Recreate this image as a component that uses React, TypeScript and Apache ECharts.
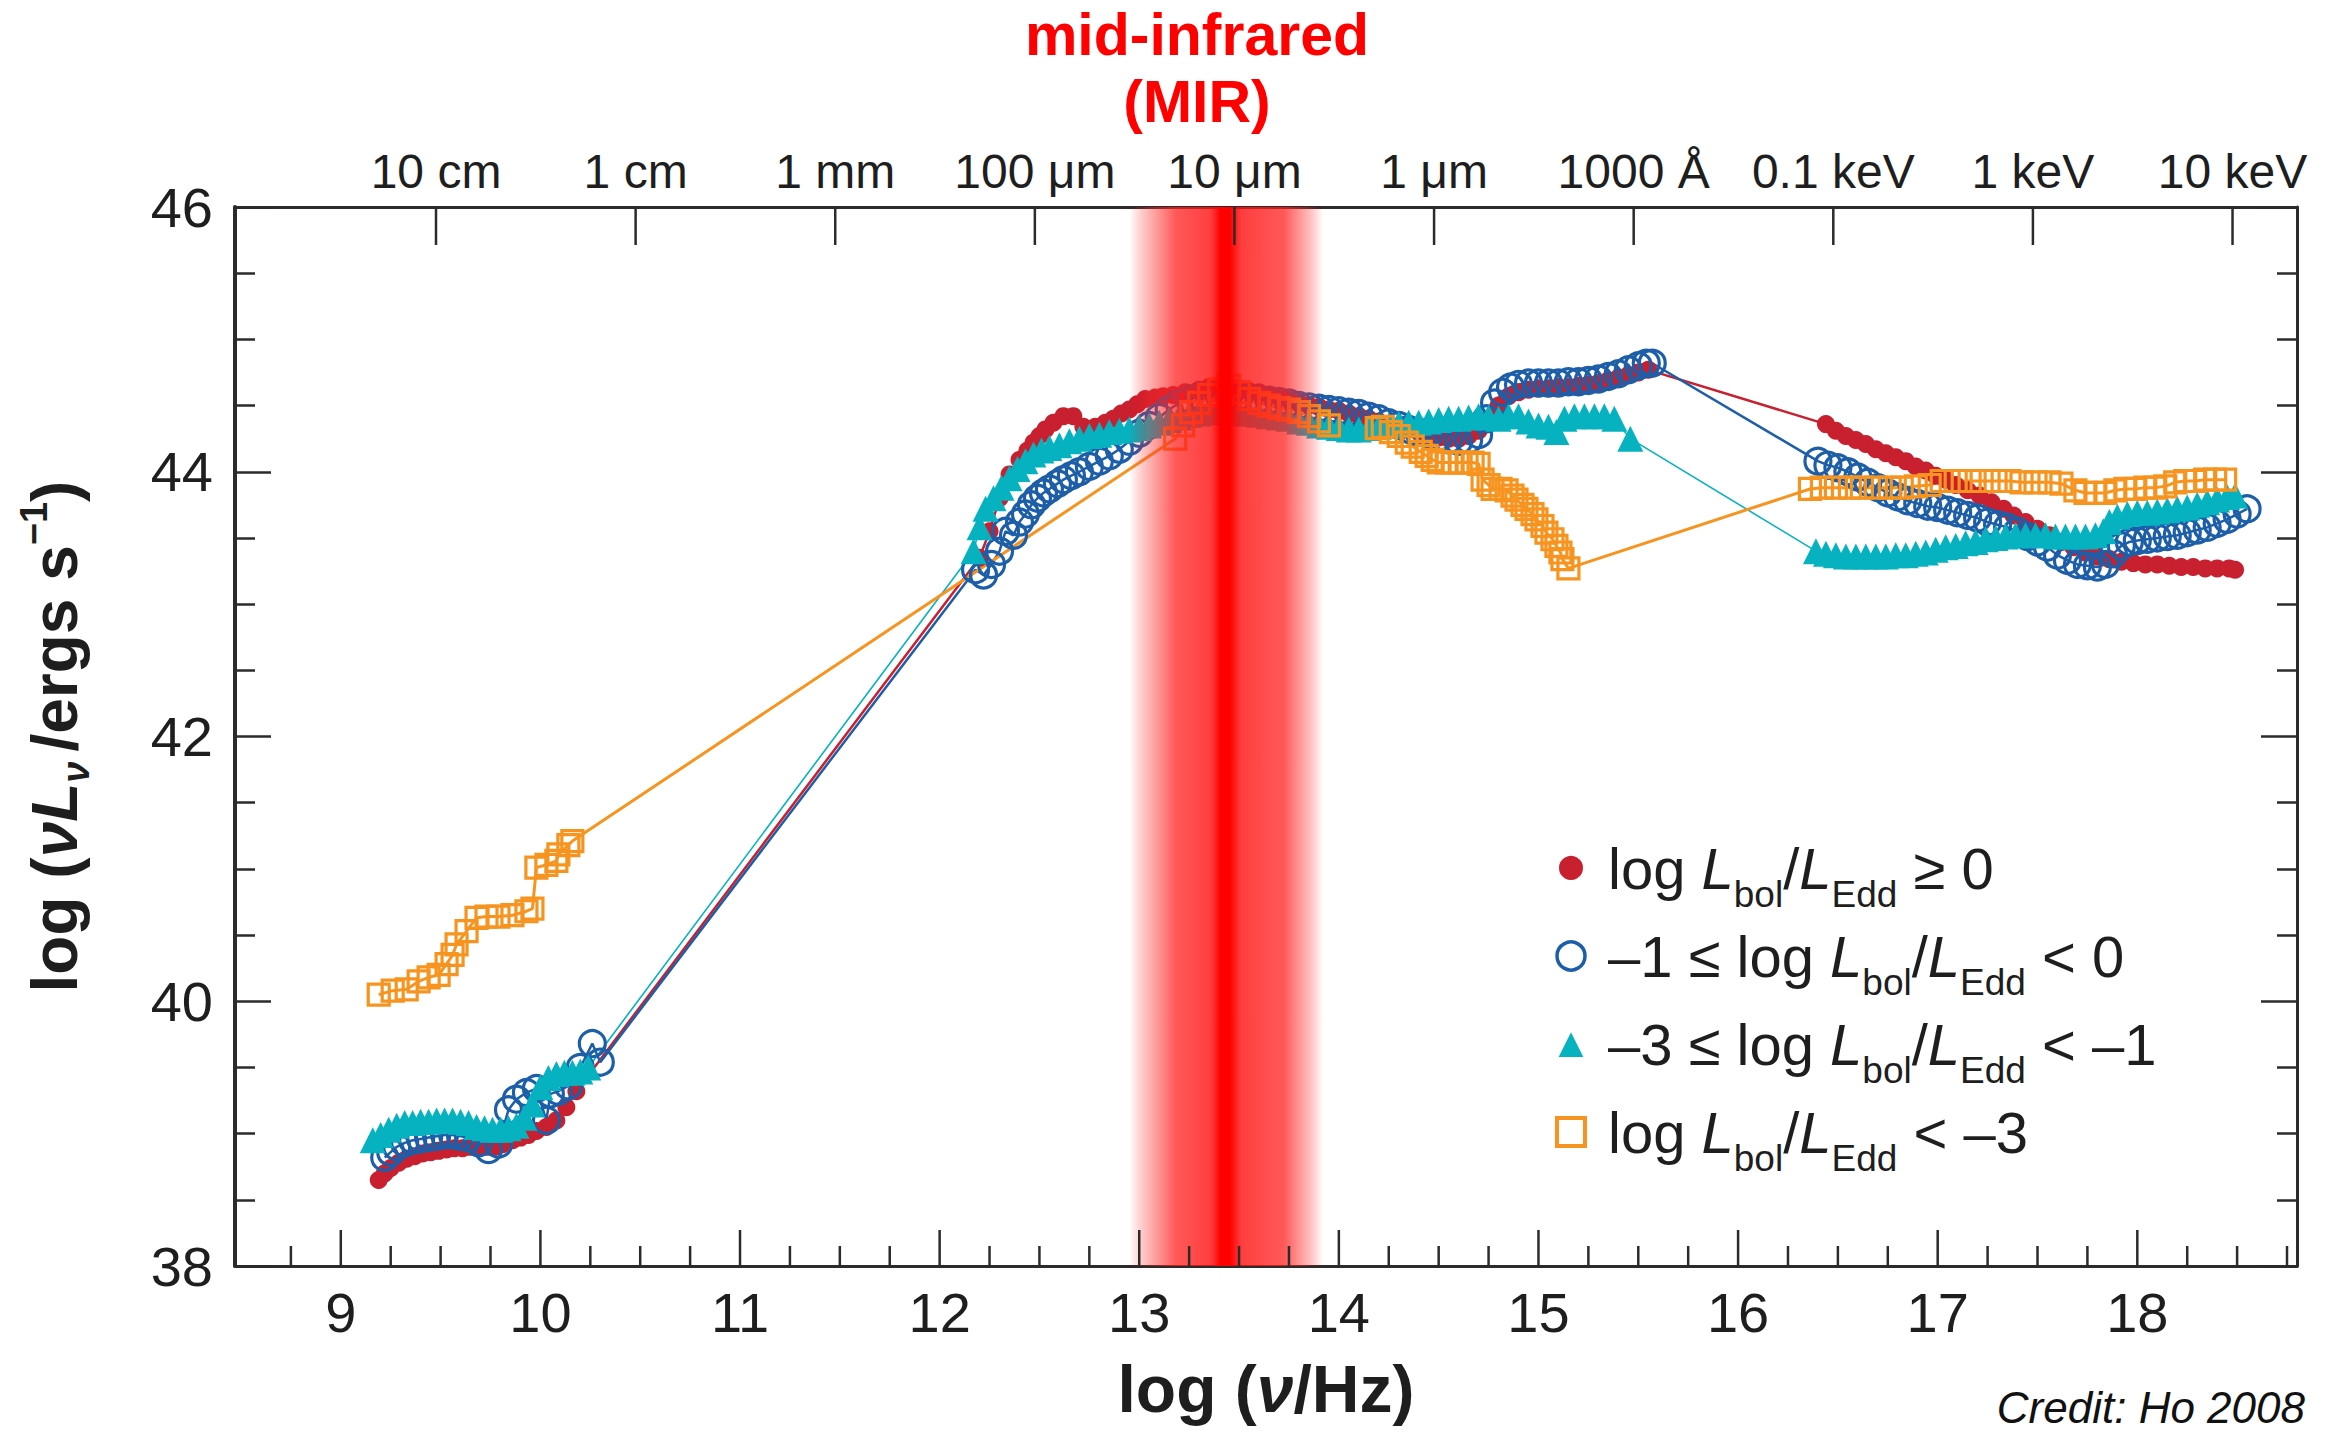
import React, { useEffect, useRef } from 'react';
import * as echarts from 'echarts';

// ---------- data (log nu [Hz], log nuL_nu [erg/s]) ----------
const seriesNames = [
  'log Lbol/LEdd ≥ 0',
  '−1 ≤ log Lbol/LEdd < 0',
  '−3 ≤ log Lbol/LEdd < −1',
  'log Lbol/LEdd < −3',
];

const redData: number[][] = [
  [9.19, 38.65], [9.22, 38.70], [9.25, 38.74], [9.29, 38.78], [9.33, 38.81], [9.37, 38.83], [9.41, 38.85],
  [9.45, 38.86], [9.49, 38.87], [9.53, 38.88], [9.57, 38.89], [9.61, 38.89], [9.65, 38.90], [9.69, 38.90],
  [9.73, 38.90], [9.77, 38.90], [9.81, 38.92], [9.86, 38.95], [9.90, 38.97], [9.94, 38.99], [9.98, 39.02],
  [10.03, 39.05], [10.08, 39.10], [10.13, 39.20], [10.18, 39.32],
  [12.20, 43.35], [12.25, 43.55], [12.30, 43.80], [12.35, 43.98], [12.40, 44.09], [12.44, 44.16], [12.47, 44.22],
  [12.50, 44.27], [12.53, 44.32], [12.57, 44.37], [12.62, 44.42], [12.67, 44.42], [12.72, 44.34], [12.78, 44.34],
  [12.83, 44.37], [12.87, 44.40], [12.91, 44.44], [12.95, 44.47], [12.99, 44.51], [13.03, 44.55], [13.08, 44.56],
  [13.12, 44.57], [13.17, 44.58], [13.23, 44.60], [13.30, 44.62], [13.35, 44.64], [13.40, 44.65], [13.45, 44.64],
  [13.50, 44.63], [13.55, 44.61], [13.60, 44.60], [13.65, 44.58], [13.70, 44.56], [13.75, 44.54], [13.80, 44.52],
  [13.85, 44.50], [13.90, 44.49], [13.95, 44.47], [14.00, 44.46], [14.05, 44.44], [14.10, 44.42], [14.15, 44.40],
  [14.20, 44.38], [14.25, 44.36], [14.30, 44.34], [14.35, 44.32], [14.40, 44.30], [14.45, 44.28], [14.50, 44.26],
  [14.55, 44.25], [14.60, 44.25], [14.65, 44.27], [14.70, 44.31], [14.75, 44.40], [14.80, 44.50], [14.85, 44.57],
  [14.90, 44.60], [14.95, 44.62], [15.00, 44.63], [15.05, 44.63], [15.10, 44.64], [15.15, 44.64], [15.20, 44.65],
  [15.25, 44.66], [15.30, 44.67], [15.35, 44.69], [15.40, 44.71], [15.45, 44.73], [15.50, 44.75], [15.55, 44.77],
  [16.44, 44.36], [16.49, 44.31], [16.54, 44.27], [16.59, 44.24], [16.64, 44.21], [16.69, 44.17], [16.74, 44.14],
  [16.79, 44.11], [16.84, 44.08], [16.89, 44.04], [16.94, 44.01], [16.99, 43.97], [17.04, 43.94], [17.09, 43.90],
  [17.15, 43.86], [17.21, 43.82], [17.27, 43.77], [17.33, 43.72], [17.38, 43.67], [17.44, 43.62], [17.50, 43.57],
  [17.56, 43.52], [17.62, 43.47], [17.68, 43.43], [17.74, 43.39], [17.80, 43.36], [17.86, 43.34], [17.92, 43.32],
  [17.98, 43.31], [18.04, 43.30], [18.10, 43.30], [18.16, 43.29], [18.22, 43.28], [18.28, 43.28], [18.34, 43.27],
  [18.40, 43.27], [18.46, 43.27], [18.49, 43.26],
];

const blueData: number[][] = [
  [9.22, 38.82], [9.25, 38.86], [9.28, 38.90], [9.32, 38.93], [9.36, 38.95], [9.40, 38.96], [9.44, 38.97],
  [9.48, 38.98], [9.52, 38.99], [9.56, 38.99], [9.60, 38.98], [9.64, 38.97], [9.69, 38.93], [9.74, 38.88],
  [9.79, 38.92], [9.84, 39.18], [9.88, 39.26], [9.93, 39.31], [9.98, 39.34], [10.03, 39.10], [10.05, 39.30],
  [10.09, 39.32], [10.14, 39.36], [10.20, 39.50], [10.26, 39.68], [10.30, 39.54],
  [12.18, 43.26], [12.22, 43.22], [12.26, 43.30], [12.30, 43.40], [12.33, 43.55], [12.37, 43.52], [12.40, 43.62],
  [12.43, 43.68], [12.46, 43.75], [12.49, 43.80], [12.52, 43.84], [12.55, 43.87], [12.59, 43.91], [12.62, 43.94],
  [12.66, 43.97], [12.70, 44.00], [12.75, 44.04], [12.80, 44.08], [12.85, 44.12], [12.90, 44.17], [12.95, 44.23],
  [13.00, 44.29], [13.05, 44.35], [13.10, 44.41], [13.15, 44.47], [13.20, 44.52], [13.25, 44.55], [13.30, 44.57],
  [13.35, 44.58], [13.40, 44.58], [13.45, 44.58], [13.50, 44.57], [13.55, 44.56], [13.60, 44.55], [13.65, 44.54],
  [13.70, 44.53], [13.75, 44.52], [13.80, 44.50], [13.85, 44.49], [13.90, 44.48], [13.95, 44.47], [14.00, 44.46],
  [14.05, 44.45], [14.10, 44.44], [14.15, 44.42], [14.20, 44.40], [14.25, 44.37], [14.30, 44.35], [14.35, 44.32],
  [14.40, 44.30], [14.45, 44.28], [14.50, 44.26], [14.55, 44.24], [14.60, 44.23], [14.65, 44.24], [14.70, 44.28],
  [14.74, 44.40], [14.78, 44.52], [14.82, 44.60], [14.86, 44.64], [14.90, 44.66], [14.95, 44.67], [15.00, 44.67],
  [15.05, 44.67], [15.10, 44.67], [15.15, 44.68], [15.20, 44.68], [15.25, 44.69], [15.30, 44.70], [15.35, 44.72],
  [15.40, 44.74], [15.45, 44.77], [15.50, 44.80], [15.54, 44.82], [15.57, 44.82],
  [16.40, 44.08], [16.45, 44.05], [16.50, 44.03], [16.55, 44.00], [16.60, 43.96], [16.65, 43.92], [16.70, 43.88],
  [16.75, 43.84], [16.80, 43.81], [16.85, 43.78], [16.90, 43.76], [16.95, 43.74], [17.00, 43.73], [17.05, 43.71],
  [17.10, 43.69], [17.15, 43.67], [17.20, 43.65], [17.25, 43.62], [17.30, 43.60], [17.35, 43.58], [17.40, 43.55],
  [17.45, 43.51], [17.50, 43.47], [17.55, 43.43], [17.60, 43.37], [17.65, 43.33], [17.70, 43.30], [17.75, 43.29],
  [17.80, 43.28], [17.84, 43.30], [17.88, 43.38], [17.92, 43.44], [17.96, 43.47], [18.00, 43.48], [18.05, 43.49],
  [18.10, 43.50], [18.15, 43.51], [18.20, 43.52], [18.25, 43.54], [18.30, 43.56], [18.35, 43.58], [18.40, 43.61],
  [18.45, 43.64], [18.50, 43.68], [18.55, 43.72],
];

const cyanData: number[][] = [
  [9.16, 38.95], [9.20, 38.99], [9.24, 39.03], [9.28, 39.06], [9.32, 39.08], [9.36, 39.08], [9.40, 39.09],
  [9.44, 39.09], [9.48, 39.10], [9.52, 39.10], [9.56, 39.10], [9.60, 39.09], [9.64, 39.08], [9.68, 39.05],
  [9.72, 39.04], [9.76, 39.03], [9.80, 39.03], [9.84, 39.04], [9.88, 39.06], [9.92, 39.12], [9.96, 39.22],
  [10.00, 39.35], [10.04, 39.42], [10.08, 39.45], [10.12, 39.46], [10.16, 39.46], [10.20, 39.47], [10.24, 39.50],
  [12.17, 43.40], [12.20, 43.58], [12.23, 43.72], [12.27, 43.80], [12.31, 43.88], [12.35, 43.95], [12.39, 44.02],
  [12.43, 44.08], [12.47, 44.13], [12.51, 44.16], [12.55, 44.18], [12.60, 44.20], [12.65, 44.23], [12.70, 44.25],
  [12.75, 44.27], [12.80, 44.28], [12.85, 44.30], [12.90, 44.31], [12.95, 44.32], [13.00, 44.33], [13.05, 44.35],
  [13.10, 44.37], [13.15, 44.39], [13.20, 44.41], [13.25, 44.43], [13.30, 44.44], [13.35, 44.45], [13.40, 44.45],
  [13.45, 44.45], [13.50, 44.44], [13.55, 44.44], [13.60, 44.43], [13.65, 44.42], [13.70, 44.41], [13.75, 44.40],
  [13.80, 44.38], [13.85, 44.37], [13.90, 44.35], [13.95, 44.34], [14.00, 44.33], [14.05, 44.32], [14.10, 44.32],
  [14.15, 44.33], [14.20, 44.34], [14.25, 44.35], [14.30, 44.36], [14.35, 44.37], [14.40, 44.37], [14.45, 44.38],
  [14.50, 44.39], [14.55, 44.40], [14.60, 44.40], [14.65, 44.41], [14.70, 44.42], [14.75, 44.41], [14.80, 44.40],
  [14.85, 44.42], [14.90, 44.42], [14.95, 44.38], [15.00, 44.35], [15.05, 44.34], [15.09, 44.30], [15.13, 44.40],
  [15.18, 44.42], [15.23, 44.42], [15.28, 44.42], [15.33, 44.42], [15.38, 44.40], [15.46, 44.25],
  [16.39, 43.40], [16.44, 43.38], [16.49, 43.37], [16.54, 43.36], [16.59, 43.36], [16.64, 43.36], [16.69, 43.36],
  [16.74, 43.36], [16.79, 43.37], [16.84, 43.37], [16.89, 43.38], [16.94, 43.39], [16.99, 43.41], [17.04, 43.43],
  [17.09, 43.44], [17.14, 43.46], [17.19, 43.47], [17.24, 43.49], [17.29, 43.50], [17.34, 43.51], [17.39, 43.52],
  [17.44, 43.52], [17.49, 43.52], [17.54, 43.52], [17.59, 43.51], [17.64, 43.51], [17.69, 43.51], [17.74, 43.51],
  [17.79, 43.52], [17.83, 43.55], [17.86, 43.62], [17.90, 43.66], [17.95, 43.68], [18.00, 43.69], [18.05, 43.69],
  [18.10, 43.70], [18.15, 43.71], [18.20, 43.72], [18.25, 43.73], [18.30, 43.75], [18.35, 43.77], [18.40, 43.79],
  [18.45, 43.81], [18.49, 43.82],
];

const orangeData: number[][] = [
  [9.19, 40.05], [9.26, 40.08], [9.33, 40.09], [9.39, 40.15], [9.44, 40.18], [9.49, 40.20], [9.53, 40.28],
  [9.56, 40.35], [9.58, 40.43], [9.63, 40.53], [9.68, 40.63], [9.73, 40.64], [9.79, 40.64], [9.86, 40.65],
  [9.93, 40.68], [9.96, 40.70], [9.98, 41.01], [10.03, 41.03], [10.08, 41.06], [10.09, 41.11], [10.14, 41.18],
  [10.16, 41.21],
  [13.18, 44.25], [13.22, 44.35], [13.26, 44.45], [13.30, 44.52], [13.35, 44.58], [13.40, 44.62], [13.45, 44.65],
  [13.50, 44.60], [13.55, 44.55], [13.60, 44.52], [13.65, 44.50], [13.70, 44.48], [13.75, 44.47], [13.80, 44.45],
  [13.85, 44.42], [13.90, 44.38], [13.95, 44.35],
  [14.19, 44.33], [14.22, 44.34], [14.26, 44.30], [14.30, 44.27], [14.34, 44.22], [14.37, 44.19], [14.41, 44.15],
  [14.44, 44.12], [14.47, 44.09], [14.50, 44.07], [14.54, 44.07], [14.57, 44.07], [14.61, 44.07], [14.64, 44.07],
  [14.67, 44.07], [14.70, 44.06], [14.72, 43.94], [14.75, 43.90], [14.77, 43.87], [14.81, 43.87], [14.84, 43.86],
  [14.87, 43.82], [14.89, 43.79], [14.92, 43.75], [14.94, 43.72], [14.97, 43.68], [14.99, 43.64], [15.02, 43.59],
  [15.04, 43.54], [15.07, 43.49], [15.09, 43.44], [15.11, 43.39], [15.12, 43.34], [15.15, 43.27],
  [16.36, 43.87], [16.42, 43.88], [16.49, 43.88], [16.56, 43.88], [16.62, 43.88], [16.69, 43.88], [16.76, 43.88],
  [16.82, 43.88], [16.89, 43.89], [16.96, 43.90], [17.02, 43.93], [17.09, 43.93], [17.16, 43.93], [17.22, 43.93],
  [17.29, 43.93], [17.36, 43.93], [17.42, 43.92], [17.49, 43.92], [17.56, 43.92], [17.62, 43.91], [17.69, 43.86],
  [17.74, 43.84], [17.79, 43.84], [17.84, 43.84], [17.89, 43.86], [17.94, 43.87], [17.99, 43.87], [18.04, 43.88],
  [18.09, 43.88], [18.14, 43.89], [18.19, 43.92], [18.24, 43.93], [18.29, 43.93], [18.34, 43.94], [18.39, 43.94],
  [18.44, 43.94],
];

// axis ticks / labels
const xRange = [8.47, 18.8];
const yRange = [38, 46];
const bottomMajorTicks = [9, 10, 11, 12, 13, 14, 15, 16, 17, 18];
const bottomMinorTicks = [
  8.75, 9.25, 9.5, 9.75, 10.25, 10.5, 10.75, 11.25, 11.5, 11.75, 12.25, 12.5, 12.75, 13.25, 13.5, 13.75,
  14.25, 14.5, 14.75, 15.25, 15.5, 15.75, 16.25, 16.5, 16.75, 17.25, 17.5, 17.75, 18.25, 18.5, 18.75,
];
const topTicks = [9.477, 10.477, 11.477, 12.477, 13.477, 14.477, 15.477, 16.477, 17.477, 18.477];
const topTickLabels = ['10 cm', '1 cm', '1 mm', '100 μm', '10 μm', '1 μm', '1000 Å', '0.1 keV', '1 keV', '10 keV'];
const mirBand = [[12.95, 13.92]];

// ---------- styles ----------
const FONT = "'Liberation Sans', Arial, Helvetica, sans-serif";
const AXIS = '#2b2b2b';
const TEXT = '#1e1e1e';
const RED = '#c8202f';
const BLUE = '#1d5ea9';
const CYAN = '#06b2c0';
const ORANGE = '#f6941f';

const legendRich = [
  '{g| }{n|log }{i|L}{t|bol}{n|/}{i|L}{t|Edd}{n| ≥ 0}',
  '{g| }{n|–1 ≤ log }{i|L}{s|bol}{n|/}{i|L}{s|Edd}{n| < 0}',
  '{g| }{n|–3 ≤ log }{i|L}{s|bol}{n|/}{i|L}{s|Edd}{n| < –1}',
  '{g| }{n|log }{i|L}{s|bol}{n|/}{i|L}{s|Edd}{n| < –3}',
];

function tickSeries(ticks: number[], top: boolean, len: number) {
  return {
    type: 'custom',
    silent: true,
    z: 6,
    data: ticks.map((v) => [v, top ? yRange[1] : yRange[0]]),
    encode: { x: 0, y: 1 },
    renderItem: (_p: any, api: any) => {
      const p = api.coord([api.value(0), api.value(1)]);
      return {
        type: 'line',
        shape: { x1: p[0], y1: p[1], x2: p[0], y2: top ? p[1] + len : p[1] - len },
        style: { stroke: AXIS, lineWidth: 2.5 },
      };
    },
  };
}

function labelSeries(ticks: number[], labels: string[], top: boolean, offset: number, size: number) {
  return {
    type: 'custom',
    silent: true,
    z: 6,
    data: ticks.map((v) => [v, top ? yRange[1] : yRange[0]]),
    encode: { x: 0, y: 1 },
    renderItem: (params: any, api: any) => {
      const p = api.coord([api.value(0), api.value(1)]);
      return {
        type: 'text',
        x: p[0],
        y: top ? p[1] - offset : p[1] + offset,
        style: {
          text: labels[params.dataIndex],
          fontSize: size,
          fontFamily: FONT,
          fill: TEXT,
          align: 'center',
          verticalAlign: 'middle',
        },
      };
    },
  };
}

function dataSeries(name: string, data: number[][], symbol: string, size: number, color: string, hollow: boolean, lw: number) {
  return {
    type: 'line',
    name,
    data,
    symbol,
    symbolSize: size,
    showAllSymbol: true,
    z: 2,
    lineStyle: { color, width: lw },
    itemStyle: hollow
      ? { color: 'rgba(255,255,255,0)', borderColor: color, borderWidth: 3.2 }
      : { color, borderWidth: 0 },
    emphasis: { disabled: true },
  };
}

const option: any = {
  animation: false,
  backgroundColor: '#ffffff',
  grid: { left: 235, top: 207, width: 2062, height: 1059, containLabel: false, outerBoundsMode: 'none' },
  xAxis: [
    {
      type: 'value', min: xRange[0], max: xRange[1], position: 'bottom',
      axisLine: { show: true, lineStyle: { color: AXIS, width: 3 } },
      axisTick: { show: false }, axisLabel: { show: false }, splitLine: { show: false },
      name: '{b|log (}{bi|ν}{b|/Hz)}',
      nameLocation: 'middle',
      nameGap: 90,
      nameTextStyle: {
        rich: {
          b: { fontSize: 66, fontWeight: 'bold', fontFamily: FONT, color: TEXT },
          bi: { fontSize: 66, fontWeight: 'bold', fontStyle: 'italic', fontFamily: FONT, color: TEXT },
        },
      },
    },
    {
      type: 'value', min: xRange[0], max: xRange[1], position: 'top',
      axisLine: { show: true, lineStyle: { color: AXIS, width: 3 } },
      axisTick: { show: false }, axisLabel: { show: false }, splitLine: { show: false },
    },
  ],
  yAxis: [
    {
      type: 'value', min: yRange[0], max: yRange[1], interval: 2, position: 'left',
      axisLine: { show: true, lineStyle: { color: AXIS, width: 4 } },
      axisTick: { show: true, inside: true, length: 36, lineStyle: { color: AXIS, width: 2.5 } },
      minorTick: { show: true, splitNumber: 4, length: 20, lineStyle: { color: AXIS, width: 2.5 } },
      axisLabel: { fontSize: 56, fontFamily: FONT, color: TEXT, margin: 22 },
      splitLine: { show: false },
      name: '{b|log (}{bi|νL}{bs|ν}{b|/ergs s}{bp|−1}{b|)}',
      nameLocation: 'middle',
      nameRotate: 90,
      nameGap: 140,
      nameTextStyle: {
        rich: {
          b: { fontSize: 64, lineHeight: 80, fontWeight: 'bold', fontFamily: FONT, color: TEXT },
          bi: { fontSize: 64, lineHeight: 80, fontWeight: 'bold', fontStyle: 'italic', fontFamily: FONT, color: TEXT },
          bs: { fontSize: 38, lineHeight: 36, fontWeight: 'bold', fontStyle: 'italic', fontFamily: FONT, color: TEXT, verticalAlign: 'bottom', padding: [0, 10, 0, 0] },
          bp: { fontSize: 38, lineHeight: 36, fontWeight: 'bold', fontFamily: FONT, color: TEXT, verticalAlign: 'top' },
        },
      },
    },
    {
      type: 'value', min: yRange[0], max: yRange[1], interval: 2, position: 'right',
      axisLine: { show: true, lineStyle: { color: AXIS, width: 3 } },
      axisTick: { show: true, inside: true, length: 36, lineStyle: { color: AXIS, width: 2.5 } },
      minorTick: { show: true, splitNumber: 4, length: 20, lineStyle: { color: AXIS, width: 2.5 } },
      axisLabel: { show: false },
      splitLine: { show: false },
    },
  ],
  legend: {
    orient: 'vertical',
    left: 1550,
    top: 834,
    itemWidth: 28,
    itemHeight: 28,
    itemGap: 14,
    selectedMode: false,
    data: [
      { name: seriesNames[0], icon: 'circle', itemStyle: { color: RED, borderColor: '#ffffff', borderWidth: 4 } },
      { name: seriesNames[1], icon: 'circle', itemStyle: { color: 'rgba(255,255,255,0)', borderColor: BLUE, borderWidth: 3.5 } },
      { name: seriesNames[2], icon: 'triangle', itemStyle: { color: CYAN, borderColor: '#ffffff', borderWidth: 2 } },
      { name: seriesNames[3], icon: 'rect', itemStyle: { color: 'rgba(255,255,255,0)', borderColor: ORANGE, borderWidth: 4 } },
    ],
    formatter: (name: string) => legendRich[seriesNames.indexOf(name)],
    textStyle: {
      rich: {
        g: { width: 18, fontSize: 20, lineHeight: 90 },
        n: { fontSize: 58, lineHeight: 90, fontFamily: FONT, color: TEXT },
        i: { fontSize: 58, lineHeight: 90, fontStyle: 'italic', fontFamily: FONT, color: TEXT },
        s: { fontSize: 37, lineHeight: 37, fontFamily: FONT, color: TEXT, verticalAlign: 'bottom' },
        t: { fontSize: 37, lineHeight: 62, fontFamily: FONT, color: TEXT, verticalAlign: 'bottom' },
      },
    },
  },
  graphic: [
    { type: 'text', x: 1197, y: 35, style: { text: 'mid-infrared', fontSize: 59, fontWeight: 'bold', fontFamily: FONT, fill: '#ff0000', align: 'center', verticalAlign: 'middle' } },
    { type: 'text', x: 1197, y: 102, style: { text: '(MIR)', fontSize: 59, fontWeight: 'bold', fontFamily: FONT, fill: '#ff0000', align: 'center', verticalAlign: 'middle' } },
    { type: 'text', x: 2305, y: 1407, style: { text: 'Credit: Ho 2008', fontSize: 44, fontStyle: 'italic', fontFamily: FONT, fill: '#111', align: 'right', verticalAlign: 'middle' } },
  ],
  series: [
    dataSeries(seriesNames[0], redData, 'circle', 18, RED, false, 2.5),
    dataSeries(seriesNames[1], blueData, 'circle', 26, BLUE, true, 2.5),
    dataSeries(seriesNames[2], cyanData, 'triangle', 26, CYAN, false, 1.6),
    dataSeries(seriesNames[3], orangeData, 'rect', 21, ORANGE, true, 3),
    {
      type: 'custom',
      silent: true,
      z: 4,
      data: mirBand.map((b) => [b[0], b[1], yRange[0], yRange[1]]),
      encode: { x: [0, 1], y: [2, 3] },
      renderItem: (_p: any, api: any) => {
        const a = api.coord([api.value(0), api.value(3)]);
        const b = api.coord([api.value(1), api.value(2)]);
        return {
          type: 'rect',
          shape: { x: a[0], y: a[1], width: b[0] - a[0], height: b[1] - a[1] },
          style: {
            fill: new echarts.graphic.LinearGradient(0, 0, 1, 0, [
              { offset: 0, color: 'rgba(255,0,0,0)' },
              { offset: 0.1, color: 'rgba(255,40,40,0.35)' },
              { offset: 0.24, color: 'rgba(255,30,30,0.74)' },
              { offset: 0.42, color: 'rgba(255,20,20,0.82)' },
              { offset: 0.47, color: 'rgba(255,0,0,1)' },
              { offset: 0.52, color: 'rgba(255,0,0,1)' },
              { offset: 0.58, color: 'rgba(255,20,20,0.82)' },
              { offset: 0.8, color: 'rgba(255,30,30,0.74)' },
              { offset: 0.92, color: 'rgba(255,40,40,0.35)' },
              { offset: 1, color: 'rgba(255,0,0,0)' },
            ]),
          },
        };
      },
    },
    tickSeries(bottomMajorTicks, false, 36),
    tickSeries(bottomMinorTicks, false, 20),
    tickSeries(topTicks, true, 38),
    labelSeries(bottomMajorTicks, bottomMajorTicks.map(String), false, 46, 56),
    labelSeries(topTicks, topTickLabels, true, 36, 48),
  ],
};

export default function App() {
  const ref = useRef<HTMLDivElement>(null);
  useEffect(() => {
    if (!ref.current) return;
    const chart = echarts.init(ref.current, null, { renderer: 'svg' });
    chart.setOption(option);
    return () => chart.dispose();
  }, []);
  return (
    <div
      ref={ref}
      style={{ position: 'absolute', left: 0, top: 0, width: 2329, height: 1433, background: '#fff' }}
    />
  );
}
